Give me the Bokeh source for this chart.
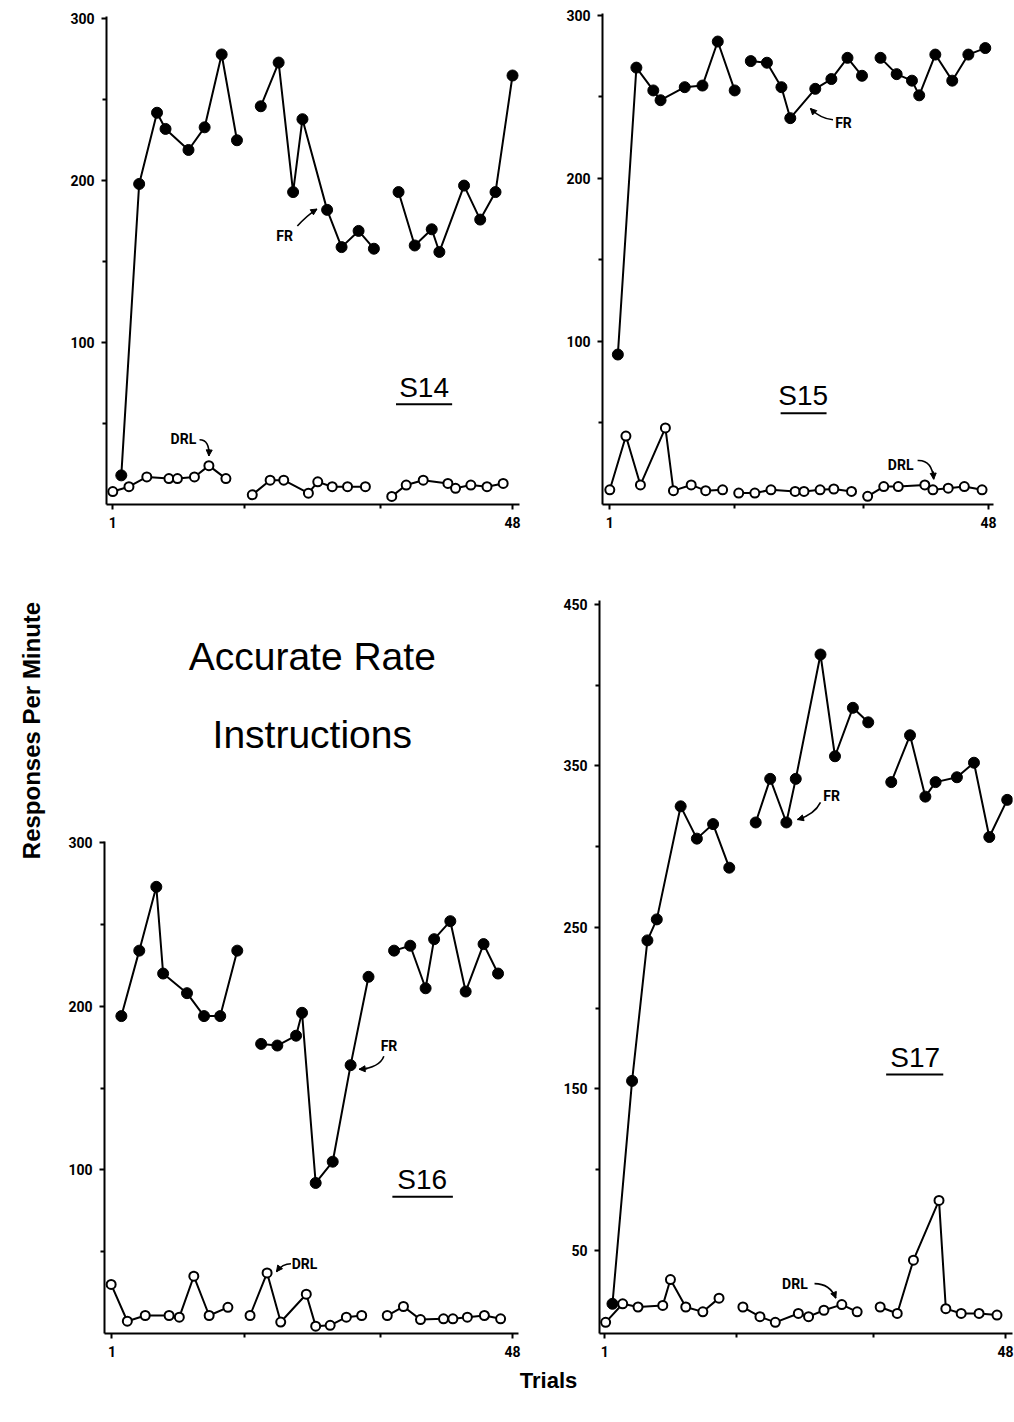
import math
from bokeh.plotting import figure
from bokeh.layouts import column, row
from bokeh.models import FixedTicker, Range1d, Arrow, NormalHead, Label
from bokeh.embed import file_html
from bokeh.resources import INLINE

# ---------------- data ----------------
SEG = 8  # points per block (three blocks of trials)

s14_fr_x = [2.0, 4.1, 6.2, 7.2, 9.9, 11.8, 13.8, 15.6, 18.4, 20.5, 22.2, 23.3, 26.2, 27.9, 29.9, 31.7,
            34.6, 36.5, 38.5, 39.4, 42.3, 44.2, 46.0, 48.0]
s14_fr_y = [18, 198, 242, 232, 219, 233, 278, 225, 246, 273, 193, 238, 182, 159, 169, 158,
            193, 160, 170, 156, 197, 176, 193, 265]
s14_drl_x = [1.0, 2.9, 5.0, 7.6, 8.6, 10.6, 12.3, 14.3, 17.4, 19.5, 21.1, 24.0, 25.1, 26.8, 28.6, 30.7,
             33.8, 35.5, 37.5, 40.4, 41.3, 43.1, 45.0, 46.9]
s14_drl_y = [8, 11, 17, 16, 16, 17, 24, 16, 6, 15, 15, 7, 14, 11, 11, 11,
             5, 12, 15, 13, 10, 12, 11, 13]

s15_fr_x = [2.0, 4.3, 6.4, 7.3, 10.3, 12.5, 14.4, 16.5, 18.5, 20.5, 22.3, 23.4, 26.5, 28.5, 30.5, 32.3,
            34.6, 36.6, 38.5, 39.4, 41.4, 43.5, 45.5, 47.6]
s15_fr_y = [92, 268, 254, 248, 256, 257, 284, 254, 272, 271, 256, 237, 255, 261, 274, 263,
            274, 264, 260, 251, 276, 260, 276, 280]
s15_drl_x = [1.0, 3.0, 4.8, 7.9, 8.9, 11.1, 12.9, 15.0, 17.0, 19.0, 21.0, 24.0, 25.1, 27.1, 28.8, 31.0,
             33.0, 35.0, 36.8, 40.1, 41.1, 43.0, 45.0, 47.2]
s15_drl_y = [9, 42, 12, 47, 8.5, 12, 8.5, 9, 7, 7, 9, 8, 8, 9, 9.5, 8,
             5, 11, 11, 12, 9, 10, 11, 9]

s16_fr_x = [2.1, 4.2, 6.2, 7.0, 9.8, 11.8, 13.7, 15.7, 18.5, 20.4, 22.6, 23.3, 24.9, 26.9, 29.0, 31.1,
            34.1, 36.0, 37.8, 38.8, 40.7, 42.5, 44.6, 46.3]
s16_fr_y = [194, 234, 273, 220, 208, 194, 194, 234, 177, 176, 182, 196, 92, 105, 164, 218,
            234, 237, 211, 241, 252, 209, 238, 220]
s16_drl_x = [0.9, 2.8, 4.9, 7.7, 8.9, 10.6, 12.4, 14.6, 17.2, 19.2, 20.8, 23.8, 24.9, 26.6, 28.5, 30.3,
             33.3, 35.2, 37.2, 39.9, 41.0, 42.7, 44.7, 46.6]
s16_drl_y = [30, 7.5, 11, 11, 10, 35, 11, 16, 11, 37, 7, 24, 4.5, 5, 10, 11,
             11, 16.5, 8.5, 9, 9, 10, 11, 9]

s17_fr_x = [1.9, 4.2, 6.0, 7.1, 9.9, 11.8, 13.7, 15.6, 18.7, 20.4, 22.3, 23.4, 26.3, 28.0, 30.1, 31.9,
            34.6, 36.8, 38.6, 39.8, 42.3, 44.3, 46.1, 48.2]
s17_fr_y = [17, 155, 242, 255, 325, 305, 314, 287, 315, 342, 315, 342, 419, 356, 386, 377,
            340, 369, 331, 340, 343, 352, 306, 329]
s17_drl_x = [1.1, 3.1, 4.9, 7.8, 8.7, 10.5, 12.5, 14.4, 17.2, 19.2, 21.0, 23.7, 24.9, 26.7, 28.8, 30.6,
             33.3, 35.3, 37.2, 40.2, 41.0, 42.8, 44.9, 47.0]
s17_drl_y = [5.5, 17, 15, 16, 32, 15, 12, 20.5, 15, 9, 5.5, 11, 9, 13, 16.5, 12,
             15, 11, 44, 81, 14, 11, 11, 10]

x_tick_labels = [1, 48]
x_block_ticks = [16.5, 32.5]
y_ticks_300 = [100, 200, 300]
y_minor_300 = [50, 150, 250]
y_ticks_450 = [50, 150, 250, 350, 450]
y_minor_450 = [100, 200, 300, 400]

TICK_FONT = "Roboto"
TEXT_FONT = "Liberation Sans"


def panel(width, height, bl, br, bt, bb, xr, yr, yticks, yminor, ybounds="auto"):
    p = figure(width=width, height=height, x_range=Range1d(*xr), y_range=Range1d(*yr),
               output_backend="svg", toolbar_location=None, title=None,
               min_border_left=bl, min_border_right=br, min_border_top=bt, min_border_bottom=bb)
    p.outline_line_color = None
    p.xgrid.visible = False
    p.ygrid.visible = False
    xa = p.xaxis[0]
    ya = p.yaxis[0]
    xa.ticker = FixedTicker(ticks=x_tick_labels, minor_ticks=x_block_ticks)
    ya.ticker = FixedTicker(ticks=yticks, minor_ticks=yminor)
    ya.bounds = ybounds
    for ax in (xa, ya):
        ax.axis_line_width = 2
        ax.axis_line_color = "black"
        ax.major_tick_line_width = 2
        ax.minor_tick_line_width = 2
        ax.major_tick_in = 0
        ax.minor_tick_in = 0
        ax.major_tick_out = 5
        ax.minor_tick_out = 4
        ax.major_label_text_font = TICK_FONT
        ax.major_label_text_font_style = "bold"
        ax.major_label_text_font_size = "14px"
        ax.major_label_text_color = "black"
        ax.major_label_standoff = 7
    return p


def series(p, xs, ys, filled):
    for k in range(0, len(xs), SEG):
        p.line(xs[k:k + SEG], ys[k:k + SEG], line_color="black", line_width=2)
    if filled:
        p.scatter(xs, ys, size=11, fill_color="black", line_color="black")
    else:
        p.scatter(xs, ys, size=9, fill_color="white", line_color="black", line_width=2)


def subject(p, name, x, y, ux0, ux1, uy):
    p.add_layout(Label(x=x, y=y, text=name, text_align="center", text_baseline="middle",
                       text_font=TEXT_FONT, text_font_size="28px", text_color="black"))
    p.segment(x0=[ux0], y0=[uy], x1=[ux1], y1=[uy], line_color="black", line_width=2)


def tag(p, text, tx, ty, sx, sy, cx, cy, ex, ey):
    """Label plus a curved (quadratic) arrow from (sx, sy) via control (cx, cy) to (ex, ey)."""
    p.add_layout(Label(x=tx, y=ty, text=text, text_align="center", text_baseline="middle",
                       text_font=TICK_FONT, text_font_style="bold", text_font_size="14px",
                       text_color="black"))
    p.quadratic(x0=[sx], y0=[sy], x1=[ex], y1=[ey], cx=[cx], cy=[cy],
                line_color="black", line_width=1.6)
    hx = cx + 0.6 * (ex - cx)
    hy = cy + 0.6 * (ey - cy)
    p.add_layout(Arrow(x_start=hx, y_start=hy, x_end=ex, y_end=ey, line_width=1.6,
                       line_color="black",
                       end=NormalHead(size=6, fill_color="black", line_color="black")))


# ---------------- top row (frames from y=13 to y=504) ----------------
f14 = panel(560, 540, 106, 41, 13, 36, (0.26, 48.82), (0, 303.3), y_ticks_300, y_minor_300,
            ybounds=(0, 301.4))
series(f14, s14_fr_x, s14_fr_y, True)
series(f14, s14_drl_x, s14_drl_y, False)
subject(f14, "S14", 37.6, 72.3, 34.3, 40.9, 62.0)
tag(f14, "FR", 21.2, 166, 22.7, 172, 23.8, 178.5, 25.0, 182.5)
tag(f14, "DRL", 9.3, 40.6, 11.2, 40.0, 12.4, 40.0, 12.3, 30.0)

f15 = panel(454, 540, 42, 21, 13, 36, (0.094, 48.62), (0, 301.2), y_ticks_300, y_minor_300)
series(f15, s15_fr_x, s15_fr_y, True)
series(f15, s15_drl_x, s15_drl_y, False)
subject(f15, "S15", 25.0, 66.9, 22.2, 27.9, 56.0)
tag(f15, "FR", 30.0, 234, 28.7, 236.0, 27.2, 236.5, 25.9, 242.9)
tag(f15, "DRL", 37.1, 24.5, 39.2, 27.0, 41.0, 27.5, 41.2, 15.5)

# ---------------- bottom row (frames from y=555 to y=1333) ----------------
fyl = figure(width=50, height=828, x_range=Range1d(0, 50), y_range=Range1d(0, 778),
             output_backend="svg", toolbar_location=None, title=None,
             min_border_left=0, min_border_right=0, min_border_top=15, min_border_bottom=35)
fyl.axis.visible = False
fyl.grid.visible = False
fyl.outline_line_color = None
fyl.add_layout(Label(x=31, y=603, text="Responses Per Minute", angle=math.pi / 2,
                     text_align="center", text_baseline="middle", text_font=TEXT_FONT,
                     text_font_style="bold", text_font_size="24px", text_color="black"))

f16 = panel(510, 828, 54, 42, 15, 35, (0.12, 48.7), (0, 475.5), y_ticks_300, y_minor_300,
            ybounds=(0, 301))
series(f16, s16_fr_x, s16_fr_y, True)
series(f16, s16_drl_x, s16_drl_y, False)
subject(f16, "S16", 37.4, 94.0, 33.9, 41.0, 83.6)
tag(f16, "FR", 33.5, 176, 32.9, 169.5, 32.4, 162.5, 30.0, 161.5)
tag(f16, "DRL", 23.6, 42.2, 22.0, 42.6, 21.0, 42.6, 20.3, 37.8)
f16.add_layout(Label(x=24.5, y=414, text="Accurate Rate", text_align="center",
                     text_baseline="middle", text_font=TEXT_FONT, text_font_size="39px",
                     text_color="black"))
f16.add_layout(Label(x=24.5, y=366, text="Instructions", text_align="center",
                     text_baseline="middle", text_font=TEXT_FONT, text_font_size="39px",
                     text_color="black"))

f17 = panel(454, 828, 38, 2, 15, 35, (0.38, 48.82), (-1.4, 480.3), y_ticks_450, y_minor_450,
            ybounds=(-1.4, 452.5))
series(f17, s17_fr_x, s17_fr_y, True)
series(f17, s17_drl_x, s17_drl_y, False)
subject(f17, "S17", 37.4, 169.5, 34.0, 40.7, 159)
tag(f17, "FR", 27.6, 331.3, 26.3, 327.5, 25.6, 320.0, 23.6, 316.8)
tag(f17, "DRL", 23.3, 29.0, 25.6, 29.5, 27.4, 29.5, 28.1, 20.5)

# ---------------- x title row ----------------
ftr = figure(width=1014, height=54, x_range=Range1d(0, 1014), y_range=Range1d(0, 54),
             output_backend="svg", toolbar_location=None, title=None,
             min_border_left=0, min_border_right=0, min_border_top=0, min_border_bottom=0)
ftr.axis.visible = False
ftr.grid.visible = False
ftr.outline_line_color = None
ftr.add_layout(Label(x=548, y=42, text="Trials", text_align="center", text_baseline="middle",
                     text_font=TEXT_FONT, text_font_style="bold", text_font_size="22px",
                     text_color="black"))

layout = column(row(f14, f15), row(fyl, f16, f17), ftr)
open("out.html", "w").write(file_html(layout, INLINE))
